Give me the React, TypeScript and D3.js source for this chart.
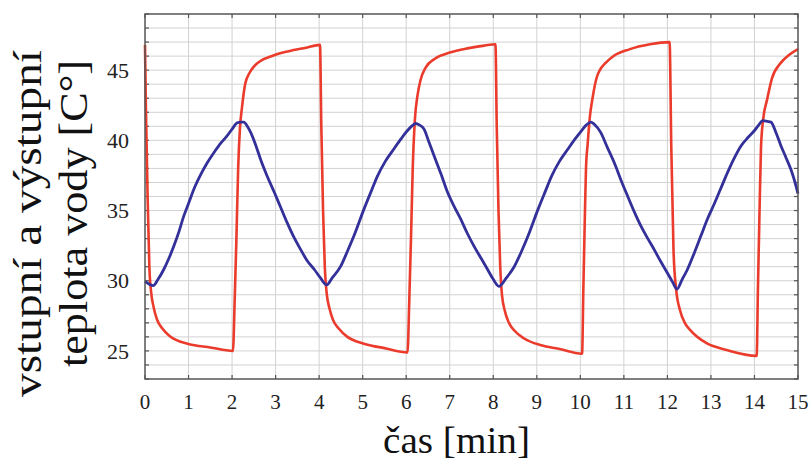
import React from "react";
import * as d3 from "d3";

// ---- data ----
const xTicks = [0, 1, 2, 3, 4, 5, 6, 7, 8, 9, 10, 11, 12, 13, 14, 15];
const yTicks = [25, 30, 35, 40, 45];
const yMinor = [23, 24, 25, 26, 27, 28, 29, 30, 31, 32, 33, 34, 35, 36, 37, 38, 39, 40, 41, 42, 43, 44, 45, 46, 47, 48, 49];

// red: water temperature (time [min], temperature [°C])
const redTime = [
  0, 0.02, 0.06, 0.1, 0.14, 0.2, 0.28, 0.4, 0.55, 0.7, 1.0, 1.5, 2.02,
  2.06, 2.1, 2.14, 2.18, 2.23, 2.3, 2.4, 2.5, 2.65, 2.95, 3.3, 3.7, 4.02,
  4.05, 4.09, 4.13, 4.17, 4.24, 4.32, 4.45, 4.65, 5.05, 5.5, 6.03,
  6.07, 6.11, 6.15, 6.2, 6.26, 6.33, 6.45, 6.65, 7.0, 7.4, 7.8, 8.05,
  8.08, 8.12, 8.16, 8.2, 8.27, 8.36, 8.5, 8.7, 9.1, 9.5, 10.04,
  10.07, 10.1, 10.13, 10.17, 10.22, 10.28, 10.4, 10.68, 11.14, 11.6, 12.05,
  12.09, 12.14, 12.2, 12.29, 12.4, 12.52, 12.9, 13.36, 14.05,
  14.08, 14.11, 14.15, 14.2, 14.29, 14.4, 14.6, 14.8, 15.0,
];
const redTemp = [
  46.8, 42.5, 36, 31, 29.2, 28.1, 27.2, 26.6, 26.1, 25.8, 25.5, 25.25, 25.0,
  28.6, 33, 38, 40.8, 42.4, 44.0, 44.8, 45.25, 45.65, 46.05, 46.35, 46.6, 46.8,
  41, 35, 31, 29.2, 28.0, 27.2, 26.6, 26.0, 25.5, 25.2, 24.9,
  28.5, 33, 38, 41.5, 43.2, 44.3, 45.2, 45.8, 46.25, 46.55, 46.75, 46.85,
  41, 35, 31, 29.0, 27.8, 27.0, 26.4, 25.9, 25.4, 25.15, 24.8,
  29.5, 34, 38, 39.8, 41.7, 43.0, 44.7, 45.8, 46.5, 46.85, 47.0,
  39.4, 32.2, 29.4, 27.9, 27.0, 26.5, 25.55, 25.07, 24.65,
  29.5, 34, 39.5, 41.5, 42.9, 44.4, 45.5, 46.1, 46.5,
];

// blue: second water temperature
const blueTime = [
  0, 0.1, 0.19, 0.3, 0.43, 0.55, 0.66, 0.78, 0.89, 1.0, 1.12, 1.27, 1.43, 1.6, 1.74, 1.88, 2.0, 2.12, 2.2, 2.27,
  2.35, 2.43, 2.55, 2.66, 2.8, 2.97, 3.12, 3.27, 3.42, 3.58, 3.73, 3.89, 4.03, 4.17,
  4.3, 4.49, 4.65, 4.8, 5.03, 5.2, 5.34, 5.52, 5.72, 5.88, 6.03, 6.14, 6.22,
  6.3, 6.41, 6.52, 6.64, 6.8, 6.95, 7.1, 7.25, 7.4, 7.56, 7.72, 7.87, 8.0, 8.13,
  8.3, 8.48, 8.65, 8.8, 9.03, 9.2, 9.34, 9.52, 9.72, 9.88, 10.03, 10.14, 10.24,
  10.32, 10.47, 10.62, 10.78, 10.93, 11.09, 11.24, 11.39, 11.55, 11.7, 11.85, 12.0, 12.12, 12.22,
  12.34, 12.46, 12.62, 12.77, 12.92, 13.08, 13.23, 13.38, 13.53, 13.69, 13.85, 14.0, 14.1, 14.19,
  14.3, 14.38, 14.5, 14.61, 14.72, 14.84, 14.95, 15.0,
];
const blueTemp = [
  29.95, 29.75, 29.65, 30.1, 30.8, 31.6, 32.45, 33.5, 34.6, 35.5, 36.5, 37.5, 38.4, 39.2, 39.8, 40.3, 40.8, 41.25, 41.3, 41.3,
  41.0, 40.55, 39.6, 38.6, 37.5, 36.3, 35.2, 34.1, 33.1, 32.2, 31.4, 30.8, 30.2, 29.7,
  30.2, 31.0, 32.1, 33.2, 35.1, 36.4, 37.45, 38.5, 39.4, 40.1, 40.7, 41.05, 41.2,
  41.1, 40.8, 39.9, 38.9, 37.6, 36.3, 35.3, 34.4, 33.4, 32.45, 31.6, 30.8, 30.1, 29.6,
  30.2, 31.0, 32.1, 33.2, 35.1, 36.4, 37.45, 38.5, 39.4, 40.1, 40.7, 41.1, 41.3,
  41.15, 40.55, 39.5, 38.4, 37.2, 36.0, 34.9, 33.9, 33.0, 32.2, 31.35, 30.55, 29.9, 29.4,
  30.1, 30.8, 32.0, 33.2, 34.4, 35.5, 36.6, 37.7, 38.7, 39.6, 40.2, 40.7, 41.1, 41.4,
  41.35, 41.3, 40.5, 39.6, 38.8, 37.9, 36.8, 36.2,
];

const xLabel = "čas [min]";
const yLabel1 = "vstupní a výstupní";
const yLabel2 = "teplota vody [C°]";

export default function App() {
  const W = 810;
  const H = 463;
  const L = 145, R = 798, T = 14, B = 379;
  const x = d3.scaleLinear().domain([0, 15]).range([L, R]);
  const y = d3.scaleLinear().domain([23, 49]).range([B, T]);
  const redPath = d3
    .line<number>()
    .x((_, i) => x(redTime[i]))
    .y((d) => y(d))
    .curve(d3.curveMonotoneX)(redTemp) as string;
  const bluePath = d3
    .line<number>()
    .x((_, i) => x(blueTime[i]))
    .y((d) => y(d))
    .curve(d3.curveMonotoneX)(blueTemp) as string;
  const font = "'Liberation Serif', 'Times New Roman', serif";
  const tick = 4;
  const frame = "#555";
  return (
    <svg
      width={W}
      height={H}
      style={{ position: "absolute", left: 0, top: 0, background: "#fff" }}
    >
      {/* grid */}
      {xTicks.slice(1, -1).map((t) => (
        <line key={"gx" + t} x1={x(t)} x2={x(t)} y1={T} y2={B} stroke="#d2d2d2" strokeWidth={1} />
      ))}
      {yMinor.slice(1, -1).map((v) => (
        <line key={"gy" + v} x1={L} x2={R} y1={y(v)} y2={y(v)} stroke="#d2d2d2" strokeWidth={1} />
      ))}
      {/* ticks */}
      {xTicks.map((t) => (
        <g key={"tx" + t}>
          <line x1={x(t)} x2={x(t)} y1={B} y2={B - tick} stroke={frame} strokeWidth={1.2} />
          <line x1={x(t)} x2={x(t)} y1={T} y2={T + tick} stroke={frame} strokeWidth={1.2} />
        </g>
      ))}
      {yMinor.map((v) => (
        <g key={"ty" + v}>
          <line x1={L} x2={L + tick} y1={y(v)} y2={y(v)} stroke={frame} strokeWidth={1.2} />
          <line x1={R} x2={R - tick} y1={y(v)} y2={y(v)} stroke={frame} strokeWidth={1.2} />
        </g>
      ))}
      {/* lines */}
      <path d={redPath} fill="none" stroke="#ea3b2c" strokeWidth={2.6} strokeLinejoin="round" />
      <path d={bluePath} fill="none" stroke="#33309a" strokeWidth={2.8} strokeLinejoin="round" />
      {/* frame */}
      <rect x={L} y={T} width={R - L} height={B - T} fill="none" stroke={frame} strokeWidth={1.5} />
      {/* tick labels */}
      {xTicks.map((t) => (
        <text key={"lx" + t} x={x(t)} y={409} textAnchor="middle" fontFamily={font} fontSize={21} fill="#222">
          {t}
        </text>
      ))}
      {yTicks.map((v) => (
        <text key={"ly" + v} x={129} y={y(v)} dy="0.35em" textAnchor="end" fontFamily={font} fontSize={22} fill="#222">
          {v}
        </text>
      ))}
      {/* axis titles */}
      <text
        x={456.5}
        y={453}
        textAnchor="middle"
        fontFamily={font}
        fontSize={38}
        fill="#111"
        textLength={147}
        lengthAdjust="spacingAndGlyphs"
      >
        {xLabel}
      </text>
      <text
        transform="translate(41,223.5) rotate(-90)"
        textAnchor="middle"
        fontFamily={font}
        fontSize={40}
        fill="#111"
        textLength={347}
        lengthAdjust="spacingAndGlyphs"
      >
        {yLabel1}
      </text>
      <text
        transform="translate(87,213.5) rotate(-90)"
        textAnchor="middle"
        fontFamily={font}
        fontSize={40}
        fill="#111"
        textLength={307}
        lengthAdjust="spacingAndGlyphs"
      >
        {yLabel2}
      </text>
    </svg>
  );
}
